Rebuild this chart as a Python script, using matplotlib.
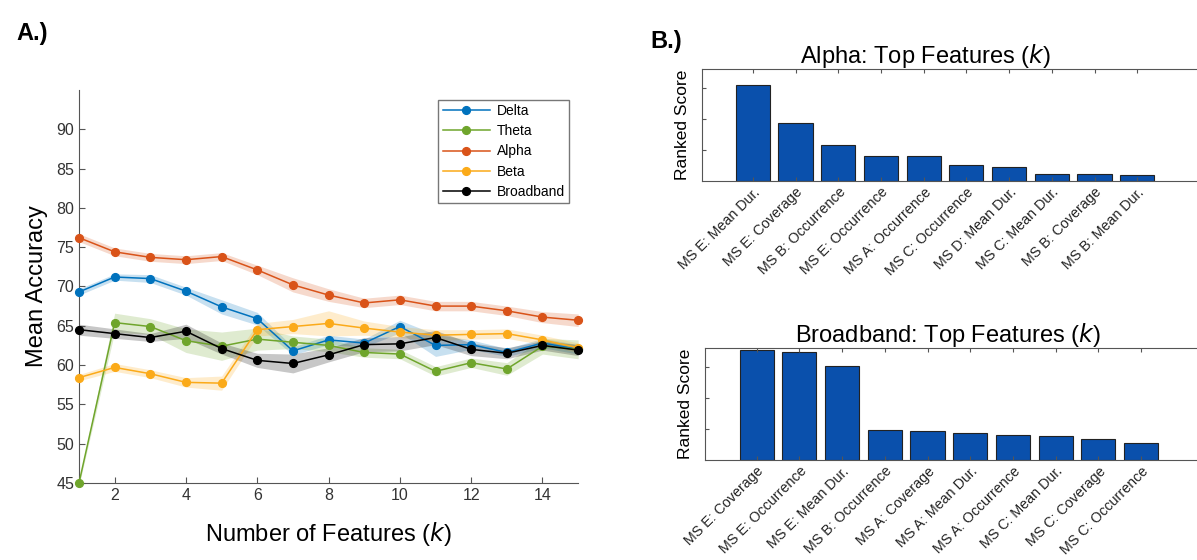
import matplotlib
matplotlib.use('agg')
import matplotlib.pyplot as plt
import numpy as np

plt.rcParams['font.family'] = ['Liberation Sans', 'DejaVu Sans']

# --- panel A data: mean accuracy vs number of features
k = np.arange(1, 16)
bands = ['Delta', 'Theta', 'Alpha', 'Beta', 'Broadband']
colors = ['#0072BD', '#6FA52C', '#D95319', '#FBAA19', '#000000']
acc_delta = [69.3, 71.2, 71.0, 69.4, 67.4, 65.9, 61.8, 63.2, 62.8, 64.9, 62.5, 62.6, 61.6, 62.8, 62.0]
acc_theta = [45.0, 65.4, 64.9, 63.1, 62.4, 63.3, 62.9, 62.5, 61.6, 61.4, 59.2, 60.3, 59.5, 62.4, 62.0]
acc_alpha = [76.2, 74.4, 73.7, 73.4, 73.8, 72.1, 70.2, 68.9, 67.9, 68.3, 67.5, 67.5, 66.9, 66.1, 65.7]
acc_beta = [58.4, 59.7, 58.9, 57.8, 57.7, 64.5, 64.9, 65.3, 64.7, 64.2, 63.8, 63.9, 64.0, 63.2, 62.2]
acc_broad = [64.5, 64.0, 63.5, 64.3, 62.1, 60.6, 60.2, 61.3, 62.6, 62.7, 63.5, 62.0, 61.5, 62.5, 61.9]
err_delta = [0.4, 0.4, 0.5, 0.5, 0.9, 0.8, 0.5, 0.6, 0.5, 0.8, 1.4, 0.6, 0.5, 0.6, 0.6]
err_theta = [0.3, 1.2, 1.0, 1.5, 1.8, 1.4, 0.8, 0.8, 0.6, 0.6, 0.6, 0.6, 0.8, 1.0, 1.2]
err_alpha = [0.5, 0.5, 0.5, 0.5, 0.5, 0.6, 0.9, 0.8, 0.6, 0.6, 0.6, 0.6, 0.6, 0.7, 0.8]
err_beta = [0.4, 0.5, 0.5, 0.6, 0.9, 0.8, 0.9, 1.6, 0.9, 0.7, 0.7, 0.6, 0.6, 0.6, 0.6]
err_broad = [0.7, 0.6, 0.5, 0.9, 0.7, 0.9, 1.2, 0.9, 0.9, 0.9, 0.9, 0.8, 0.7, 0.6, 0.7]

# --- panel B data: ranked feature scores
alpha_feats = ['MS E: Mean Dur.', 'MS E: Coverage', 'MS B: Occurrence', 'MS E: Occurrence',
               'MS A: Occurrence', 'MS C: Occurrence', 'MS D: Mean Dur.', 'MS C: Mean Dur.',
               'MS B: Coverage', 'MS B: Mean Dur.']
alpha_scores = [3.08, 1.88, 1.17, 0.79, 0.79, 0.50, 0.44, 0.24, 0.22, 0.19]
broad_feats = ['MS E: Coverage', 'MS E: Occurrence', 'MS E: Mean Dur.', 'MS B: Occurrence',
               'MS A: Coverage', 'MS A: Mean Dur.', 'MS A: Occurrence', 'MS C: Mean Dur.',
               'MS C: Coverage', 'MS C: Occurrence']
broad_scores = [3.55, 3.46, 3.03, 0.97, 0.94, 0.86, 0.81, 0.78, 0.69, 0.56]

axis_col = '#555555'

fig = plt.figure(figsize=(11.97, 5.6), dpi=100)

# panel A
ax = fig.add_axes([0.066, 0.1375, 0.417, 0.702])
series = [acc_delta, acc_theta, acc_alpha, acc_beta, acc_broad]
errs = [err_delta, err_theta, err_alpha, err_beta, err_broad]
for name, c, y, e in zip(bands, colors, series, errs):
    y = np.array(y)
    e = np.array(e)
    ax.fill_between(k, y - e, y + e, color=c, alpha=0.22, lw=0)
for name, c, y in zip(bands, colors, series):
    ax.plot(k, y, '-o', color=c, lw=1.1, ms=5.6, label=name, clip_on=False, zorder=3)
ax.set_xlim(1, 15)
ax.set_ylim(45, 95)
ax.set_xticks([2, 4, 6, 8, 10, 12, 14])
ax.set_yticks(np.arange(45, 91, 5))
for s in ['top', 'right']:
    ax.spines[s].set_visible(False)
for s in ['left', 'bottom']:
    ax.spines[s].set_color(axis_col)
ax.tick_params(direction='in', colors=axis_col, labelcolor='#333333', labelsize=11.5, length=4)
ax.set_xlabel('Number of Features ($\\it{k}$)', fontsize=17, labelpad=12)
ax.set_ylabel('Mean Accuracy', fontsize=17, labelpad=6)
leg = ax.legend(loc='upper left', bbox_to_anchor=(0.72, 0.975), fontsize=10, handlelength=3.4,
                frameon=True, fancybox=False, edgecolor='#555555', borderpad=0.3,
                labelspacing=0.45, handletextpad=0.5, borderaxespad=0)
leg.get_frame().set_linewidth(1.0)
fig.text(0.014, 0.929, 'A.)', fontsize=17, fontweight='bold')


def bar_panel(rect, labels, scores, title, xlim, title_x):
    bx = fig.add_axes(rect)
    pos = np.arange(1, len(scores) + 1)
    bx.bar(pos, scores, width=0.8, color='#0A50AC', edgecolor='#222222', lw=0.8)
    bx.set_xlim(*xlim)
    bx.set_ylim(0, 3.6)
    bx.set_xticks(pos)
    bx.set_xticklabels(labels, rotation=45, ha='right', rotation_mode='anchor', fontsize=10.3)
    bx.set_yticks([1, 2, 3])
    bx.set_yticklabels([])
    bx.tick_params(direction='in', top=True, colors=axis_col,
                   labelcolor='#222222', length=3, pad=3)
    for s in bx.spines.values():
        s.set_color(axis_col)
    bx.set_ylabel('Ranked Score', fontsize=12.5, labelpad=6)
    bx.set_title(title, fontsize=17, pad=4, x=title_x)
    return bx


bar_panel([0.5865, 0.6768, 0.416, 0.200], alpha_feats, alpha_scores,
          'Alpha: Top Features ($\\it{k}$)', (-0.19, 11.47), 0.449)
bar_panel([0.589, 0.1786, 0.4135, 0.200], broad_feats, broad_scores,
          'Broadband: Top Features ($\\it{k}$)', (-0.21, 11.38), 0.49)
fig.text(0.543, 0.915, 'B.)', fontsize=17, fontweight='bold')

fig.savefig('out.png', dpi=100)
